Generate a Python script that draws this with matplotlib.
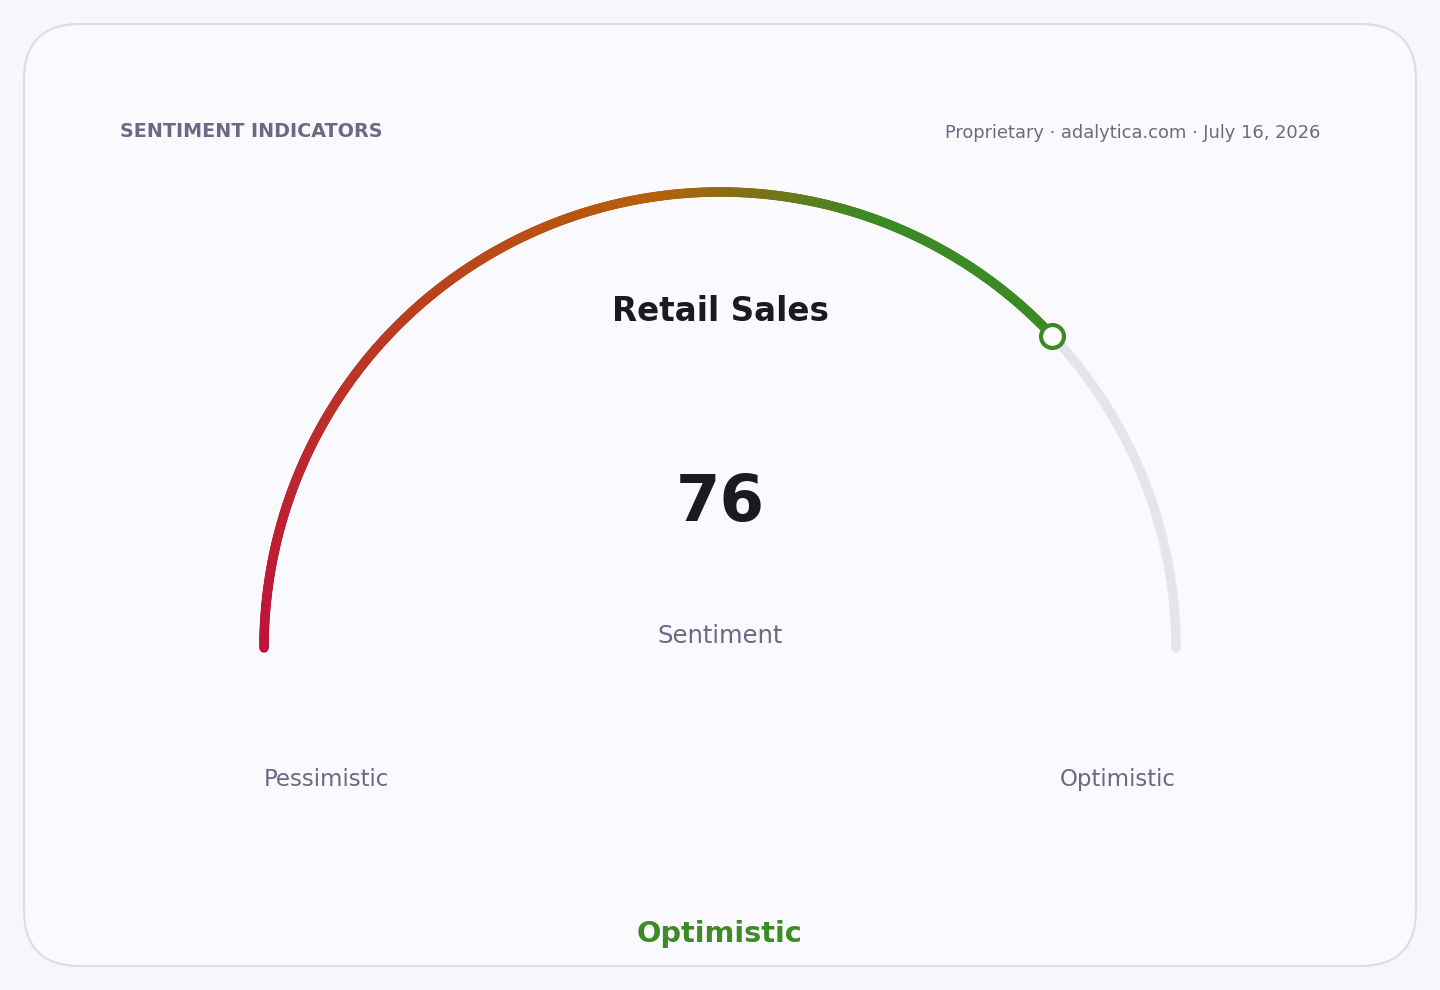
import numpy as np
import matplotlib
matplotlib.use("Agg")
import matplotlib.pyplot as plt
from matplotlib.collections import LineCollection
from matplotlib.patches import FancyBboxPatch
from matplotlib.colors import LinearSegmentedColormap

# ---- data ----
indicator_name = "Retail Sales"
gauge_value = 76
gauge_min = 0
gauge_max = 100
value_label = "Sentiment"
end_labels = ["Pessimistic", "Optimistic"]
status_label = "Optimistic"
header_left = "SENTIMENT INDICATORS"
header_right = "Proprietary · adalytica.com · July 16, 2026"
gradient_colors = ["#be123c", "#b75f0a", "#3b8a24", "#3b8a24"]
gradient_stops = [0.0, 0.6, 0.8, 1.0]

# ---- styles ----
W, H = 1440, 990
fig = plt.figure(figsize=(W / 100, H / 100), dpi=100, facecolor="#f7f7fb")
ax = fig.add_axes([0, 0, 1, 1])
ax.set_xlim(0, W)
ax.set_ylim(H, 0)
ax.set_aspect("equal")
ax.axis("off")

card = FancyBboxPatch((24 + 56, 24 + 56), 1392 - 112, 942 - 112,
                      boxstyle="round,pad=56", facecolor="#f9f9fe",
                      edgecolor="#dedce9", linewidth=1.6)
ax.add_patch(card)

cx, cy, r = 720, 648, 456
lw = 6.8

def pt(v):
    frac = (v - gauge_min) / (gauge_max - gauge_min)
    th = np.pi * (1 - frac)
    return cx + r * np.cos(th), cy - r * np.sin(th)

# background track
vs = np.linspace(gauge_min, gauge_max, 400)
xs, ys = pt(vs)
ax.plot(xs, ys, color="#e4e4ea", lw=lw, solid_capstyle="round", zorder=2)

# gradient value arc
cmap = LinearSegmentedColormap.from_list("g", list(zip(gradient_stops, gradient_colors)))
vv = np.linspace(gauge_min, gauge_value, 600)
px, py = pt(vv)
pts = np.column_stack([px, py])
segs = np.stack([pts[:-1], pts[1:]], axis=1)
cols = cmap(np.linspace(0, 1, len(segs)))
lc = LineCollection(segs, colors=cols, linewidths=lw, capstyle="round", zorder=3)
ax.add_collection(lc)

mx, my = pt(gauge_value)
ax.plot([mx], [my], marker="o", markersize=16.5, markerfacecolor="white",
        markeredgecolor=gradient_colors[-1], markeredgewidth=3.0, zorder=5)

# texts
sub = "#6b6a86"
ax.text(120, 137, header_left, fontsize=13.8, fontweight="bold", color=sub,
        ha="left", va="baseline")
ax.text(1320, 137.5, header_right, fontsize=12.9, color="#6b6a80",
        ha="right", va="baseline")
ax.text(720, 321, indicator_name, fontsize=23.5, fontweight="bold", color="#1a1a22",
        ha="center", va="baseline")
ax.text(720, 521, str(gauge_value), fontsize=46, fontweight="bold", color="#1a1a22",
        ha="center", va="baseline")
ax.text(720, 643, value_label, fontsize=17.5, color=sub, ha="center", va="baseline")
lx, _ = pt(gauge_min)
rx, _ = pt(gauge_max)
ax.text(lx, 786, end_labels[0], fontsize=16.5, color=sub, ha="left", va="baseline")
ax.text(rx, 786, end_labels[1], fontsize=16.5, color=sub, ha="right", va="baseline")
ax.text(720, 942, status_label, fontsize=20.7, fontweight="bold", color="#3d8a26",
        ha="center", va="baseline")

fig.savefig("out.png", dpi=100, facecolor=fig.get_facecolor())
